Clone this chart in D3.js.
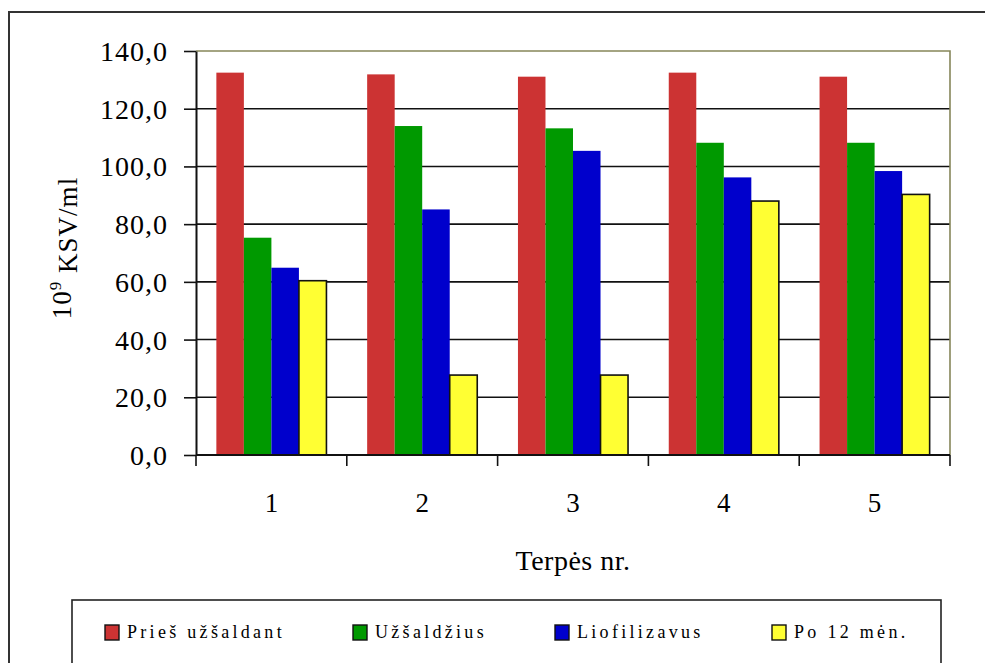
<!DOCTYPE html>
<html>
<head>
<meta charset="utf-8">
<script src="https://cdn.jsdelivr.net/npm/d3@7"></script>
<style>
  html, body { margin: 0; padding: 0; background: #fff; }
  svg { display: block; }
  text { font-family: "Liberation Serif", "Times New Roman", serif; fill: #000; }
</style>
</head>
<body>
<svg id="chart" width="985" height="663"></svg>
<script>
// Media numbers (categories on the x axis)
const categories = ["1", "2", "3", "4", "5"];

// Series names shown in the legend
const seriesNames = ["Prieš užšaldant", "Užšaldžius", "Liofilizavus", "Po 12 mėn."];

// Cell counts, 10^9 CFU/ml, one value per medium
const priesUzsaldant = [132.5, 131.9, 131.1, 132.5, 131.1];
const uzsaldzius     = [75.3, 114.0, 113.2, 108.2, 108.2];
const liofilizavus   = [64.9, 85.1, 105.4, 96.2, 98.4];
const po12men        = [60.4, 27.7, 27.7, 88.0, 90.3];

// Y axis tick values
const yTickValues = [0, 20, 40, 60, 80, 100, 120, 140];

const seriesValues = [priesUzsaldant, uzsaldzius, liofilizavus, po12men];
const seriesColors = ["#cc3333", "#009900", "#0000cc", "#ffff33"];

const svg = d3.select("#chart");

// Outer chart frame (top and left edges are visible)
svg.append("path")
  .attr("d", "M9,663 L9,12 L985,12")
  .attr("fill", "none")
  .attr("stroke", "#333")
  .attr("stroke-width", 2);

const plot = { left: 196, right: 950, top: 51, bottom: 455 };

const x0 = d3.scaleBand()
  .domain(categories)
  .range([plot.left, plot.right])
  .paddingInner(0.27)
  .paddingOuter(0.135);

const x1 = d3.scaleBand()
  .domain(d3.range(seriesNames.length))
  .range([0, x0.bandwidth()])
  .padding(0);

const y = d3.scaleLinear()
  .domain([0, 140])
  .range([plot.bottom, plot.top]);

const fmt = d3.formatLocale({ decimal: ",", thousands: ".", grouping: [3], currency: ["", ""] }).format(".1f");

// Horizontal gridlines
svg.append("g")
  .selectAll("line")
  .data(yTickValues.filter(v => v > 0 && v < 140))
  .join("line")
  .attr("x1", plot.left).attr("x2", plot.right)
  .attr("y1", d => y(d)).attr("y2", d => y(d))
  .attr("stroke", "#111")
  .attr("stroke-width", 1.6);

// Plot area top and right edges
svg.append("path")
  .attr("d", `M${plot.left},${y(140)} L${plot.right},${y(140)} L${plot.right},${y(0)}`)
  .attr("fill", "none")
  .attr("stroke", "#86865a")
  .attr("stroke-width", 1.6);

// Bars
const groups = svg.append("g")
  .selectAll("g")
  .data(categories)
  .join("g")
  .attr("transform", d => `translate(${x0(d)},0)`);

groups.selectAll("rect")
  .data((d, i) => seriesValues.map((vals, s) => ({ s, v: vals[i] })))
  .join("rect")
  .attr("x", d => x1(d.s))
  .attr("width", x1.bandwidth())
  .attr("y", d => y(d.v))
  .attr("height", d => y(0) - y(d.v))
  .attr("fill", d => seriesColors[d.s])
  .attr("stroke", d => d.s === 3 ? "#111" : "none")
  .attr("stroke-width", 1.6);

// Y axis
const yAxis = svg.append("g")
  .attr("transform", `translate(${plot.left},0)`)
  .call(d3.axisLeft(y).tickValues(yTickValues).tickFormat(fmt).tickSize(12).tickPadding(16).tickSizeOuter(0));
yAxis.select(".domain").attr("stroke", "#111").attr("stroke-width", 2);
yAxis.selectAll(".tick line").attr("stroke", "#111").attr("stroke-width", 1.6);
yAxis.selectAll(".tick text")
  .style("font-size", "28px")
  .style("letter-spacing", "1px")
  .attr("dy", "0.34em");

// X axis: ticks at category boundaries
const xAxis = svg.append("g");
xAxis.append("line")
  .attr("x1", plot.left).attr("x2", plot.right)
  .attr("y1", y(0)).attr("y2", y(0))
  .attr("stroke", "#111").attr("stroke-width", 2);
const boundaries = categories.map(c => x0(c) - x0.step() * x0.paddingInner() / 2)
  .concat([plot.right]);
xAxis.selectAll("line.tk")
  .data(boundaries)
  .join("line")
  .attr("class", "tk")
  .attr("x1", d => d).attr("x2", d => d)
  .attr("y1", y(0)).attr("y2", y(0) + 11)
  .attr("stroke", "#111").attr("stroke-width", 1.6);
xAxis.selectAll("text")
  .data(categories)
  .join("text")
  .attr("x", d => x0(d) + x0.bandwidth() / 2)
  .attr("y", 512)
  .attr("text-anchor", "middle")
  .style("font-size", "27px")
  .text(d => d);

// Axis titles
svg.append("text")
  .attr("x", 573)
  .attr("y", 570)
  .attr("text-anchor", "middle")
  .style("font-size", "28px")
  .style("letter-spacing", "0.5px")
  .text("Terpės nr.");

const yTitle = svg.append("text")
  .attr("transform", "translate(71,248) rotate(-90)")
  .attr("text-anchor", "middle")
  .style("font-size", "27px")
  .style("letter-spacing", "1px");
yTitle.append("tspan").text("10");
yTitle.append("tspan").attr("dy", "-0.6em").style("font-size", "17px").text("9");
yTitle.append("tspan").attr("dy", "0.6em").text(" KSV/ml");

// Legend
svg.append("rect")
  .attr("x", 72).attr("y", 600)
  .attr("width", 869).attr("height", 80)
  .attr("fill", "none")
  .attr("stroke", "#222")
  .attr("stroke-width", 1.6);

const legendX = [105, 353, 555, 772];
const legend = svg.append("g")
  .selectAll("g")
  .data(seriesNames)
  .join("g")
  .attr("transform", (d, i) => `translate(${legendX[i]},625)`);
legend.append("rect")
  .attr("width", 14).attr("height", 15)
  .attr("fill", (d, i) => seriesColors[i])
  .attr("stroke", "#111")
  .attr("stroke-width", 1.4);
legend.append("text")
  .attr("x", 22)
  .attr("y", 12.5)
  .style("font-size", "18px")
  .style("letter-spacing", "3.3px")
  .text(d => d);
</script>
</body>
</html>
